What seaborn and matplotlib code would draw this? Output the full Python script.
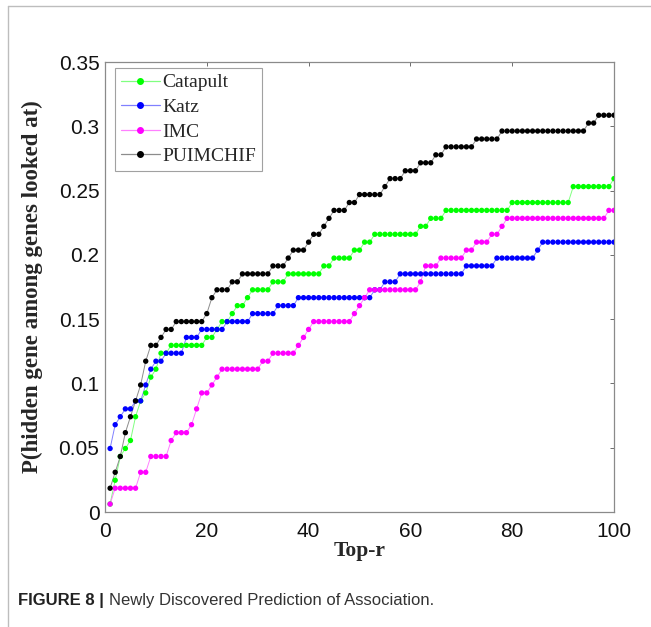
import matplotlib
matplotlib.use("Agg")
import matplotlib.pyplot as plt
import numpy as np
import pandas as pd
import seaborn as sns
from matplotlib.lines import Line2D

# ---------------- data ----------------
methods = ["Catapult", "Katz", "IMC", "PUIMCHIF"]
top_r = list(range(1, 101))

catapult = [
    0.0062, 0.0247, 0.0432, 0.0494, 0.0556, 0.0741, 0.0864, 0.0926, 0.1049, 0.1111,
    0.1235, 0.1235, 0.1296, 0.1296, 0.1296, 0.1296, 0.1296, 0.1296, 0.1296, 0.1358,
    0.1358, 0.1420, 0.1481, 0.1481, 0.1543, 0.1605, 0.1605, 0.1667, 0.1728, 0.1728,
    0.1728, 0.1728, 0.1790, 0.1790, 0.1790, 0.1852, 0.1852, 0.1852, 0.1852, 0.1852,
    0.1852, 0.1852, 0.1914, 0.1914, 0.1975, 0.1975, 0.1975, 0.1975, 0.2037, 0.2037,
    0.2099, 0.2099, 0.2160, 0.2160, 0.2160, 0.2160, 0.2160, 0.2160, 0.2160, 0.2160,
    0.2160, 0.2222, 0.2222, 0.2284, 0.2284, 0.2284, 0.2346, 0.2346, 0.2346, 0.2346,
    0.2346, 0.2346, 0.2346, 0.2346, 0.2346, 0.2346, 0.2346, 0.2346, 0.2346, 0.2407,
    0.2407, 0.2407, 0.2407, 0.2407, 0.2407, 0.2407, 0.2407, 0.2407, 0.2407, 0.2407,
    0.2407, 0.2531, 0.2531, 0.2531, 0.2531, 0.2531, 0.2531, 0.2531, 0.2531, 0.2593,
]
katz = [
    0.0494, 0.0679, 0.0741, 0.0802, 0.0802, 0.0864, 0.0864, 0.0988, 0.1111, 0.1173,
    0.1173, 0.1235, 0.1235, 0.1235, 0.1235, 0.1358, 0.1358, 0.1358, 0.1420, 0.1420,
    0.1420, 0.1420, 0.1420, 0.1481, 0.1481, 0.1481, 0.1481, 0.1481, 0.1543, 0.1543,
    0.1543, 0.1543, 0.1543, 0.1605, 0.1605, 0.1605, 0.1605, 0.1667, 0.1667, 0.1667,
    0.1667, 0.1667, 0.1667, 0.1667, 0.1667, 0.1667, 0.1667, 0.1667, 0.1667, 0.1667,
    0.1667, 0.1667, 0.1728, 0.1728, 0.1790, 0.1790, 0.1790, 0.1852, 0.1852, 0.1852,
    0.1852, 0.1852, 0.1852, 0.1852, 0.1852, 0.1852, 0.1852, 0.1852, 0.1852, 0.1852,
    0.1914, 0.1914, 0.1914, 0.1914, 0.1914, 0.1914, 0.1975, 0.1975, 0.1975, 0.1975,
    0.1975, 0.1975, 0.1975, 0.1975, 0.2037, 0.2099, 0.2099, 0.2099, 0.2099, 0.2099,
    0.2099, 0.2099, 0.2099, 0.2099, 0.2099, 0.2099, 0.2099, 0.2099, 0.2099, 0.2099,
]
imc = [
    0.0062, 0.0185, 0.0185, 0.0185, 0.0185, 0.0185, 0.0309, 0.0309, 0.0432, 0.0432,
    0.0432, 0.0432, 0.0556, 0.0617, 0.0617, 0.0617, 0.0679, 0.0802, 0.0926, 0.0926,
    0.0988, 0.1049, 0.1111, 0.1111, 0.1111, 0.1111, 0.1111, 0.1111, 0.1111, 0.1111,
    0.1173, 0.1173, 0.1235, 0.1235, 0.1235, 0.1235, 0.1235, 0.1296, 0.1358, 0.1420,
    0.1481, 0.1481, 0.1481, 0.1481, 0.1481, 0.1481, 0.1481, 0.1481, 0.1543, 0.1605,
    0.1667, 0.1728, 0.1728, 0.1728, 0.1728, 0.1728, 0.1728, 0.1728, 0.1728, 0.1728,
    0.1728, 0.1790, 0.1914, 0.1914, 0.1914, 0.1975, 0.1975, 0.1975, 0.1975, 0.1975,
    0.2037, 0.2037, 0.2099, 0.2099, 0.2099, 0.2160, 0.2160, 0.2222, 0.2284, 0.2284,
    0.2284, 0.2284, 0.2284, 0.2284, 0.2284, 0.2284, 0.2284, 0.2284, 0.2284, 0.2284,
    0.2284, 0.2284, 0.2284, 0.2284, 0.2284, 0.2284, 0.2284, 0.2284, 0.2346, 0.2346,
]
puimchif = [
    0.0185, 0.0309, 0.0432, 0.0617, 0.0741, 0.0864, 0.0988, 0.1173, 0.1296, 0.1296,
    0.1358, 0.1420, 0.1420, 0.1481, 0.1481, 0.1481, 0.1481, 0.1481, 0.1481, 0.1543,
    0.1667, 0.1728, 0.1728, 0.1728, 0.1790, 0.1790, 0.1852, 0.1852, 0.1852, 0.1852,
    0.1852, 0.1852, 0.1914, 0.1914, 0.1914, 0.1975, 0.2037, 0.2037, 0.2037, 0.2099,
    0.2160, 0.2160, 0.2222, 0.2284, 0.2346, 0.2346, 0.2346, 0.2407, 0.2407, 0.2469,
    0.2469, 0.2469, 0.2469, 0.2469, 0.2531, 0.2593, 0.2593, 0.2593, 0.2654, 0.2654,
    0.2654, 0.2716, 0.2716, 0.2716, 0.2778, 0.2778, 0.2840, 0.2840, 0.2840, 0.2840,
    0.2840, 0.2840, 0.2901, 0.2901, 0.2901, 0.2901, 0.2901, 0.2963, 0.2963, 0.2963,
    0.2963, 0.2963, 0.2963, 0.2963, 0.2963, 0.2963, 0.2963, 0.2963, 0.2963, 0.2963,
    0.2963, 0.2963, 0.2963, 0.2963, 0.3025, 0.3025, 0.3086, 0.3086, 0.3086, 0.3086,
]

x_ticks = [0, 20, 40, 60, 80, 100]
y_ticks = [0, 0.05, 0.1, 0.15, 0.2, 0.25, 0.3, 0.35]
y_tick_labels = ["0", "0.05", "0.1", "0.15", "0.2", "0.25", "0.3", "0.35"]

marker_colors = {"Catapult": "#00ff00", "Katz": "#0000ff", "IMC": "#ff00ff", "PUIMCHIF": "#000000"}
line_colors = {"Catapult": "#80ff80", "Katz": "#8080ff", "IMC": "#ff80ff", "PUIMCHIF": "#8c8c8c"}

# ---------------- build table ----------------
series = {"Catapult": catapult, "Katz": katz, "IMC": imc, "PUIMCHIF": puimchif}
frames = []
for m in methods:
    frames.append(pd.DataFrame({"Top-r": top_r, "P": series[m], "Method": m}))
df = pd.concat(frames, ignore_index=True)

# ---------------- style ----------------
sns.set_style("white")
plt.rcParams["font.family"] = ["Liberation Sans", "DejaVu Sans"]

fig = plt.figure(figsize=(6.51, 6.27), dpi=100)
ax = fig.add_axes([105 / 651, 1 - 512 / 627, 509 / 651, 450 / 627])

sns.lineplot(data=df, x="Top-r", y="P", hue="Method", hue_order=methods,
             palette=line_colors, linewidth=0.7, estimator=None, sort=False,
             legend=False, ax=ax)
sns.scatterplot(data=df, x="Top-r", y="P", hue="Method", hue_order=methods,
                palette=marker_colors, s=15, linewidth=0, edgecolor="none",
                legend=False, ax=ax, zorder=3)

ax.set_xlim(0, 100)
ax.set_ylim(0, 0.35)
ax.set_xticks(x_ticks)
ax.set_xticklabels([str(t) for t in x_ticks])
ax.set_yticks(y_ticks)
ax.set_yticklabels(y_tick_labels)
ax.tick_params(direction="in", length=3, width=0.6, color="#555555",
               top=True, right=True, labelsize=15, labelcolor="#111111")
ax.tick_params(axis="x", pad=7)
ax.tick_params(axis="y", pad=4)
for s in ax.spines.values():
    s.set_visible(True)
    s.set_color("#8a8a8a")
    s.set_linewidth(0.9)

serif = ["Liberation Serif", "DejaVu Serif"]
ax.set_xlabel("Top-r", family=serif, fontweight="bold", fontsize=15.5, labelpad=0)
ax.set_ylabel("P(hidden gene among genes looked at)", family=serif,
              fontweight="bold", fontsize=16.5, labelpad=11)

handles = [Line2D([], [], color=line_colors[m], lw=0.9, marker="o",
                  markerfacecolor=marker_colors[m], markeredgecolor=marker_colors[m],
                  markersize=4) for m in methods]
leg = ax.legend(handles, methods, loc="upper left",
                bbox_to_anchor=((115 - 105) / 509, (512 - 68) / 450),
                borderaxespad=0, frameon=True, fancybox=False,
                prop={"family": serif, "size": 14}, handlelength=2.0,
                handletextpad=0.15, labelspacing=0.36, borderpad=0.3)
leg.get_frame().set_edgecolor("#8a8a8a")
leg.get_frame().set_linewidth(0.8)

# page frame lines
fig.add_artist(Line2D([8 / 651, 1.0], [1 - 6 / 627, 1 - 6 / 627],
                      transform=fig.transFigure, color="#bdbdbd", lw=1.0))
fig.add_artist(Line2D([8 / 651, 8 / 651], [0.0, 1 - 6 / 627],
                      transform=fig.transFigure, color="#bdbdbd", lw=1.0))

# caption
fig.canvas.draw()
renderer = fig.canvas.get_renderer()
t1 = fig.text(18 / 651, 1 - 601 / 627, "FIGURE 8 |", fontsize=12, fontweight="bold",
              color="#222222", va="center", ha="left")
bb = t1.get_window_extent(renderer=renderer)
fig.text((bb.x1 + 5) / fig.bbox.width, 1 - 601 / 627,
         "Newly Discovered Prediction of Association.", fontsize=12,
         color="#333333", va="center", ha="left")

fig.savefig("out.png", dpi=100)
